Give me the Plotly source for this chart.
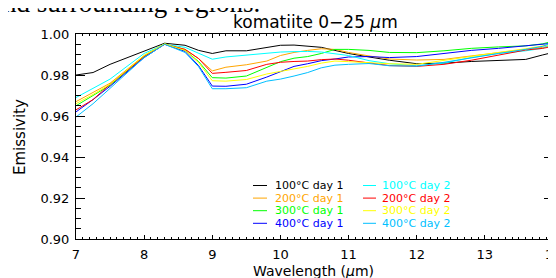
import plotly.graph_objects as go

# ---------------- data ----------------
wavelength = [7.0, 7.25, 7.5, 8.0, 8.3, 8.6, 8.8, 9.0, 9.2, 9.5, 9.8, 10.0, 10.2,
              10.4, 10.6, 10.8, 11.0, 11.3, 11.6, 12.0, 12.4, 12.8, 13.2, 13.6, 13.85, 14.0]

e100_d1 = [0.9800, 0.9812, 0.9852, 0.9915, 0.9955, 0.9945, 0.9920, 0.9905, 0.9918, 0.9918,
           0.9932, 0.9945, 0.9946, 0.9942, 0.9935, 0.9920, 0.9905, 0.9888, 0.9872, 0.9855,
           0.9858, 0.9866, 0.9870, 0.9876, 0.9898, 0.9910]
e200_d1 = [0.9670, 0.9715, 0.9760, 0.9895, 0.9952, 0.9925, 0.9880, 0.9820, 0.9838, 0.9850,
           0.9868, 0.9895, 0.9910, 0.9920, 0.9928, 0.9925, 0.9910, 0.9893, 0.9878, 0.9873,
           0.9876, 0.9893, 0.9908, 0.9922, 0.9935, 0.9945]
e300_d1 = [0.9650, 0.9700, 0.9750, 0.9890, 0.9952, 0.9920, 0.9865, 0.9787, 0.9785, 0.9795,
           0.9835, 0.9865, 0.9882, 0.9890, 0.9905, 0.9925, 0.9925, 0.9920, 0.9910, 0.9909,
           0.9918, 0.9930, 0.9937, 0.9942, 0.9952, 0.9965]
e400_d1 = [0.9620, 0.9680, 0.9745, 0.9885, 0.9950, 0.9915, 0.9845, 0.9746, 0.9745, 0.9755,
           0.9790, 0.9815, 0.9842, 0.9855, 0.9870, 0.9878, 0.9888, 0.9890, 0.9885, 0.9890,
           0.9905, 0.9920, 0.9930, 0.9942, 0.9950, 0.9955]
e100_d2 = [0.9690, 0.9735, 0.9780, 0.9905, 0.9950, 0.9935, 0.9905, 0.9877, 0.9888, 0.9897,
           0.9905, 0.9912, 0.9914, 0.9915, 0.9912, 0.9905, 0.9895, 0.9870, 0.9855, 0.9845,
           0.9858, 0.9885, 0.9905, 0.9918, 0.9930, 0.9955]
e200_d2 = [0.9630, 0.9680, 0.9755, 0.9890, 0.9950, 0.9925, 0.9880, 0.9808, 0.9813, 0.9822,
           0.9852, 0.9862, 0.9866, 0.9868, 0.9875, 0.9878, 0.9872, 0.9860, 0.9846, 0.9842,
           0.9852, 0.9872, 0.9898, 0.9922, 0.9930, 0.9940]
e300_d2 = [0.9660, 0.9705, 0.9755, 0.9895, 0.9952, 0.9920, 0.9860, 0.9772, 0.9770, 0.9778,
           0.9805, 0.9818, 0.9828, 0.9842, 0.9858, 0.9868, 0.9865, 0.9860, 0.9855, 0.9852,
           0.9872, 0.9893, 0.9910, 0.9928, 0.9940, 0.9950]
e400_d2 = [0.9595, 0.9660, 0.9735, 0.9885, 0.9950, 0.9910, 0.9840, 0.9733, 0.9733, 0.9738,
           0.9770, 0.9780, 0.9795, 0.9812, 0.9835, 0.9848, 0.9852, 0.9856, 0.9845, 0.9843,
           0.9862, 0.9885, 0.9905, 0.9925, 0.9940, 0.9960]

series = [e100_d1, e200_d1, e300_d1, e400_d1, e100_d2, e200_d2, e300_d2, e400_d2]
names = ["100°C day 1", "200°C day 1", "300°C day 1", "400°C day 1",
         "100°C day 2", "200°C day 2", "300°C day 2", "400°C day 2"]
colors = ["#000000", "#FFA500", "#00FF00", "#0000FF",
          "#00FFFF", "#FF0000", "#FFFF00", "#00BFFF"]

x_ticks = [7, 8, 9, 10, 11, 12, 13, 14]
y_ticks = [0.90, 0.92, 0.94, 0.96, 0.98, 1.00]

# ---------------- figure ----------------
# the page body adds an 8px offset; layout numbers below are in screenshot pixels
OFF = 8
W, H = 556, 278
ML, MT = 76 - OFF, 34 - OFF
PW, PH = 477, 205
MR, MB = W - ML - PW, H - MT - PH

def px(xp):
    return (xp - OFF - ML) / PW

def py(yp):
    return 1 - (yp - OFF - MT) / PH

FONT = "DejaVu Sans"

fig = go.Figure()
for vals, name, col in zip(series, names, colors):
    fig.add_trace(go.Scatter(x=wavelength, y=vals, mode="lines", name=name,
                             line=dict(color=col, width=1), showlegend=False))

axis_common = dict(showgrid=False, zeroline=False, showline=True, linecolor="black",
                   linewidth=1, mirror="ticks", ticks="inside", tickcolor="black",
                   tickwidth=1, automargin=False,
                   tickfont=dict(family=FONT, size=13, color="black"))

fig.update_xaxes(range=[7, 14], tickvals=x_ticks, ticktext=[str(v) for v in x_ticks],
                 ticklen=4, ticklabelstandoff=3,
                 minor=dict(ticks="inside", dtick=0.1, tick0=7, ticklen=2, tickcolor="black"),
                 **axis_common)
fig.update_yaxes(range=[0.90, 1.00], tickvals=y_ticks, ticktext=[f"{v:.2f}" for v in y_ticks],
                 ticklen=9, ticklabelstandoff=3,
                 minor=dict(ticks="inside", dtick=0.005, tick0=0.9, ticklen=5, tickcolor="black"),
                 **axis_common)

annotations = []
shapes = []
# legend (two columns, drawn as text + short key lines)
key_x0 = [253, 363]
key_x1 = [267, 376]
text_x = [273, 380]
row_y0, row_dy = 185.5, 12.6
for i, (name, col) in enumerate(zip(names, colors)):
    c, r = i // 4, i % 4
    yy = row_y0 + r * row_dy
    shapes.append(dict(type="line", xref="paper", yref="paper",
                       x0=px(key_x0[c]), x1=px(key_x1[c]), y0=py(yy), y1=py(yy),
                       line=dict(color=col, width=1)))
    annotations.append(dict(text=name, xref="paper", yref="paper", x=px(text_x[c]), y=py(yy),
                            xanchor="left", yanchor="middle", showarrow=False,
                            font=dict(family=FONT, size=11, color=col)))

# title and axis titles
annotations.append(dict(text="komatiite 0−25 <i>μ</i>m", xref="paper", yref="paper",
                        x=px(315), y=py(22), xanchor="center", yanchor="middle", showarrow=False,
                        font=dict(family=FONT, size=17, color="black")))
annotations.append(dict(text="Wavelength (<i>μ</i>m)", xref="paper", yref="paper",
                        x=px(313), y=py(271), xanchor="center", yanchor="middle", showarrow=False,
                        font=dict(family=FONT, size=14, color="black")))
annotations.append(dict(text="Emissivity", xref="paper", yref="paper", textangle=-90,
                        x=px(20), y=py(137), xanchor="center", yanchor="middle", showarrow=False,
                        font=dict(family=FONT, size=15, color="black")))
# cropped caption text from the page above
annotations.append(dict(text="nd surrounding regions.", xref="paper", yref="paper",
                        x=px(1), y=py(20), xanchor="left", yanchor="bottom", showarrow=False,
                        font=dict(family="Liberation Serif", size=27, color="black")))

fig.update_layout(width=W, height=H, margin=dict(l=ML, r=MR, t=MT, b=MB),
                  paper_bgcolor="white", plot_bgcolor="white",
                  annotations=annotations, shapes=shapes, showlegend=False)

fig.write_html("out.html")
